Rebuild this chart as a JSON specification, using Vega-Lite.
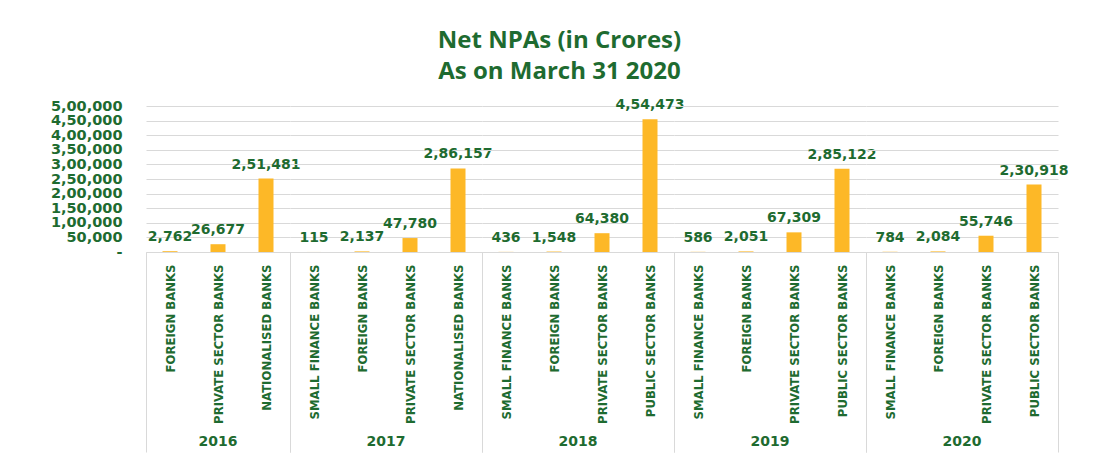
{
  "$schema": "https://vega.github.io/schema/vega-lite/v6.json",
  "padding": {"left": 50, "top": 29, "right": 5, "bottom": 5},
  "background": "white",
  "bounds": "flush",
  "config": {
    "locale": {"number": {"decimal": ".", "thousands": ",", "grouping": [3, 2], "currency": ["₹", ""]}},
    "view": {"stroke": null},
    "font": "DejaVu Sans"
  },
  "title": {
    "text": ["Net NPAs (in Crores)", "As on March 31 2020"],
    "font": "Open Sans",
    "fontSize": 24,
    "fontWeight": "bold",
    "color": "#1e6b30",
    "lineHeight": 31,
    "anchor": "middle",
    "frame": "bounds",
    "offset": 14
  },
  "data": {
    "values": [
      {"year": "2016", "bank": "FOREIGN BANKS", "npa": 2762},
      {"year": "2016", "bank": "PRIVATE SECTOR BANKS", "npa": 26677},
      {"year": "2016", "bank": "NATIONALISED BANKS", "npa": 251481},
      {"year": "2017", "bank": "SMALL FINANCE BANKS", "npa": 115},
      {"year": "2017", "bank": "FOREIGN BANKS", "npa": 2137},
      {"year": "2017", "bank": "PRIVATE SECTOR BANKS", "npa": 47780},
      {"year": "2017", "bank": "NATIONALISED BANKS", "npa": 286157},
      {"year": "2018", "bank": "SMALL FINANCE BANKS", "npa": 436},
      {"year": "2018", "bank": "FOREIGN BANKS", "npa": 1548},
      {"year": "2018", "bank": "PRIVATE SECTOR BANKS", "npa": 64380},
      {"year": "2018", "bank": "PUBLIC SECTOR BANKS", "npa": 454473},
      {"year": "2019", "bank": "SMALL FINANCE BANKS", "npa": 586},
      {"year": "2019", "bank": "FOREIGN BANKS", "npa": 2051},
      {"year": "2019", "bank": "PRIVATE SECTOR BANKS", "npa": 67309},
      {"year": "2019", "bank": "PUBLIC SECTOR BANKS", "npa": 285122},
      {"year": "2020", "bank": "SMALL FINANCE BANKS", "npa": 784},
      {"year": "2020", "bank": "FOREIGN BANKS", "npa": 2084},
      {"year": "2020", "bank": "PRIVATE SECTOR BANKS", "npa": 55746},
      {"year": "2020", "bank": "PUBLIC SECTOR BANKS", "npa": 230918}
    ]
  },
  "facet": {
    "column": {
      "field": "year",
      "type": "ordinal",
      "header": {
        "title": null,
        "labelOrient": "bottom",
        "labelFont": "DejaVu Sans",
        "labelFontWeight": "bold",
        "labelFontSize": 14,
        "labelColor": "#1e6b30",
        "labelPadding": 183
      }
    }
  },
  "spacing": 0,
  "resolve": {"scale": {"x": "independent"}},
  "spec": {
    "width": {"step": 48},
    "height": 146,
    "encoding": {
      "x": {
        "field": "bank",
        "type": "nominal",
        "sort": null,
        "scale": {"paddingInner": 0, "paddingOuter": 0},
        "axis": {
          "title": null,
          "labelAngle": -90,
          "labelFont": "DejaVu Sans Condensed",
          "labelFontWeight": "bold",
          "labelFontSize": 13,
          "labelColor": "#1e6b30",
          "labelLimit": 300,
          "tickBand": "extent",
          "tickSize": 200,
          "labelPadding": -188,
          "domainColor": "#d9d9d9",
          "tickColor": {"condition": {"test": "datum.index < 0 || datum.index == 1", "value": "#d9d9d9"}, "value": "transparent"}
        }
      },
      "y": {
        "field": "npa",
        "type": "quantitative",
        "scale": {"domain": [0, 500000]},
        "axis": {
          "title": null,
          "values": [0, 50000, 100000, 150000, 200000, 250000, 300000, 350000, 400000, 450000, 500000],
          "labelExpr": "datum.value == 0 ? '-' : format(datum.value, ',')",
          "labelFont": "DejaVu Sans",
          "labelFontWeight": "bold",
          "labelFontSize": 14.5,
          "labelColor": "#1e6b30",
          "labelPadding": 24,
          "ticks": false,
          "domain": false,
          "gridColor": "#d9d9d9"
        }
      }
    },
    "layer": [
      {"mark": {"type": "bar", "color": "#fdb827", "width": 15}},
      {
        "mark": {"type": "text", "baseline": "bottom", "dy": -7, "font": "DejaVu Sans", "fontWeight": "bold", "fontSize": 14, "color": "#1e6b30"},
        "encoding": {"text": {"field": "npa", "type": "quantitative", "format": ","}}
      }
    ]
  }
}
